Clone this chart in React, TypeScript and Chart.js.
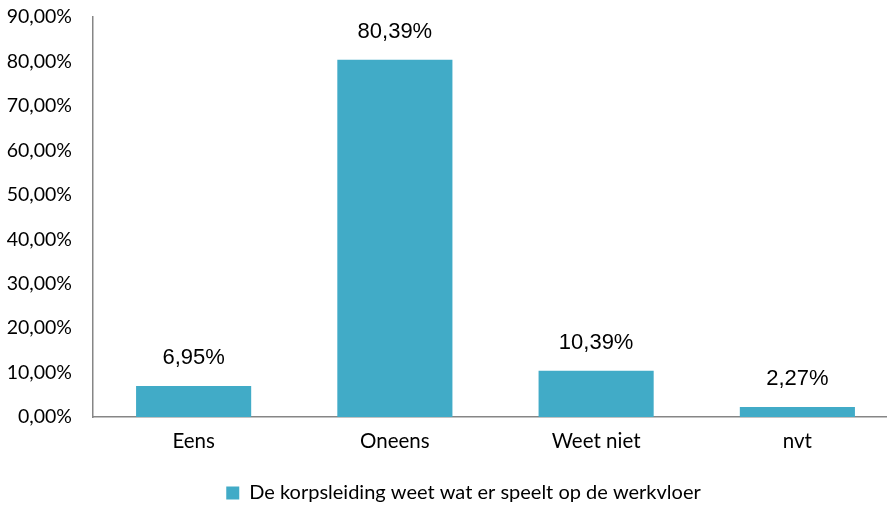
import React, { useEffect, useRef } from "react";
import { Chart, registerables } from "chart.js";

Chart.register(...registerables);

const categories = ["Eens", "Oneens", "Weet niet", "nvt"];
const values = [6.95, 80.39, 10.39, 2.27];
const seriesLabel = "De korpsleiding weet wat er speelt op de werkvloer";
const barColor = "#41ABC7";

const fmt = (v: number) => v.toFixed(2).replace(".", ",") + "%";

const dataLabelPlugin = {
  id: "dataLabels",
  afterLayout(chart: any) {
    if (chart.legend) {
      chart.legend.left += 20;
      chart.legend.right += 20;
      chart.legend.top += 4;
      chart.legend.bottom += 4;
    }
    const x = chart.scales.x;
    if (x) {
      x.right = 898;
      x.width = x.right - x.left;
      x.configure();
      chart.chartArea.right = 898;
      chart.chartArea.width = chart.chartArea.right - chart.chartArea.left;
    }
  },
  afterDatasetsDraw(chart: any) {
    const ctx = chart.ctx;
    const meta = chart.getDatasetMeta(0);
    ctx.save();
    ctx.font = "22px 'Liberation Sans', Arial, sans-serif";
    ctx.fillStyle = "#000";
    ctx.textAlign = "center";
    ctx.textBaseline = "middle";
    meta.data.forEach((el: any, i: number) => {
      ctx.fillText(fmt(values[i]), el.x, el.y - 28);
    });
    ctx.restore();
  },
};

export default function App() {
  const ref = useRef<HTMLCanvasElement>(null);
  useEffect(() => {
    if (!ref.current) return;
    const font = "Lato, 'Open Sans', sans-serif";
    const chart = new Chart(ref.current, {
      type: "bar",
      data: {
        labels: categories,
        datasets: [
          {
            label: seriesLabel,
            data: values,
            backgroundColor: barColor,
            categoryPercentage: 1,
            barPercentage: 0.572,
          },
        ],
      },
      options: {
        animation: false,
        responsive: false,
        maintainAspectRatio: false,
        layout: { padding: { top: 0, right: 0, left: 0, bottom: 0 } },
        plugins: {
          tooltip: { enabled: false },
          legend: {
            position: "bottom",
            labels: {
              boxWidth: 13,
              boxHeight: 13,
              padding: 0,
              color: "#000",
              font: { family: font, size: 20 },
            },
          },
        },
        scales: {
          y: {
            min: 0,
            max: 90,
            afterFit: (s: any) => {
              s.width = 93;
              s.paddingTop = 17;
            },
            ticks: {
              stepSize: 10,
              callback: (v: any) => fmt(Number(v)),
              color: "#000",
              padding: 21,
              font: { family: font, size: 19.5 },
            },
            grid: { display: false, drawTicks: false },
            border: { display: true, color: "#868686", width: 1.5 },
          },
          x: {
            afterFit: (s: any) => {
              s.height = 62;
            },
            ticks: {
              color: "#000",
              padding: 12,
              font: { family: font, size: 20.5 },
            },
            grid: { display: false, drawTicks: false },
            border: { display: true, color: "#868686", width: 1.5 },
          },
        },
      },
      plugins: [dataLabelPlugin],
    });
    return () => chart.destroy();
  }, []);
  return (
    <div style={{ position: "fixed", left: 0, top: 0, width: 887, height: 509, background: "#fff" }}>
      <canvas ref={ref} width={887} height={509} />
    </div>
  );
}
